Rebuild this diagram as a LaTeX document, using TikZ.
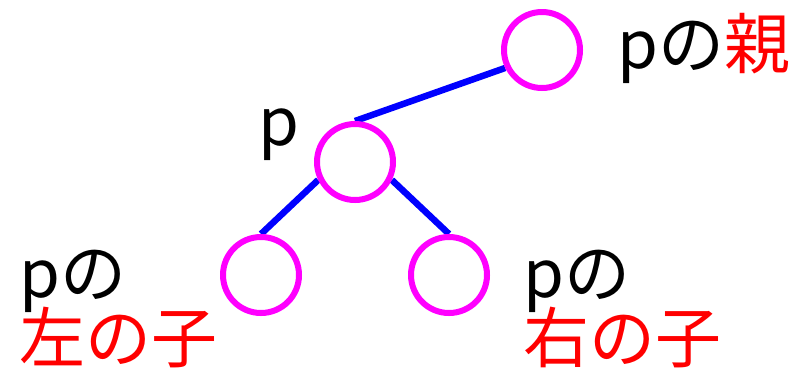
\documentclass[tikz,border=0pt]{standalone}
\usepackage{fontspec}
\setmainfont{Noto Sans CJK JP}
\usetikzlibrary{backgrounds}
\definecolor{ringpink}{RGB}{255,0,255}
\definecolor{linkblue}{RGB}{0,0,255}
\definecolor{textred}{RGB}{255,0,0}

\begin{document}
\begin{tikzpicture}[x=1pt,y=-1pt]
    \tikzstyle{vertex}=[circle,draw=ringpink,fill=white,line width=6pt,minimum size=76pt,inner sep=0pt]
    \tikzstyle{link}=[draw=linkblue,line width=6.5pt]
    \tikzstyle{annot}=[anchor=base west,inner sep=0pt,font=\fontsize{66}{66}\selectfont]

    \useasboundingbox (0,0) rectangle (794,368);

    % Draw the tree nodes
    \node[vertex] (par) at (542,50) {};
    \node[vertex] (p) at (355,162) {};
    \foreach \name / \x in {lc/261,rc/449}
        \node[vertex] (\name) at (\x,275) {};

    % Connect p with its parent and children
    \begin{scope}[on background layer]
        \draw[link] (p.north) -- (par.206);
        \draw[link] (p.206) -- (lc.north);
        \draw[link] (p.334) -- (rc.north);
    \end{scope}

    % Annotate the nodes
    \node[annot] (p-name) at (258,145) {p};
    \node[annot] (par-name) at (617,68) {pの\textcolor{textred}{親}};
    \node[annot] (lc-name) at (19,297) {pの};
    \node[annot] (lc-kid) at (19,362) {\textcolor{textred}{左の子}};
    \node[annot] (rc-name) at (523,297) {pの};
    \node[annot] (rc-kid) at (523,362) {\textcolor{textred}{右の子}};

\end{tikzpicture}
\end{document}
